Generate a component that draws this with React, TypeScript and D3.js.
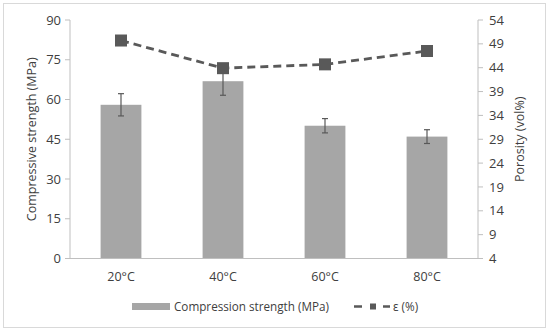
import React from 'react';
import * as d3 from 'd3';

const temps = ['20°C', '40°C', '60°C', '80°C'];
const strength = [58, 66.9, 50.1, 46];
const strengthErr = [4.2, 5.3, 2.7, 2.6];
const porosity = [49.7, 43.9, 44.7, 47.5];
const leftTicks = [0, 15, 30, 45, 60, 75, 90];
const rightTicks = [4, 9, 14, 19, 24, 29, 34, 39, 44, 49, 54];

const App = () => {
  const width = 550;
  const height = 332;
  const left = 70;
  const right = 478;
  const top = 20;
  const bottom = 258.5;
  const font = 'Open Sans, sans-serif';
  const axisColor = '#bfbfbf';
  const textColor = '#404040';
  const barColor = '#a6a6a6';
  const markColor = '#595959';

  const x = d3.scaleBand().domain(temps).range([left, right]).paddingInner(0.6).paddingOuter(0.3);
  const yL = d3.scaleLinear().domain([0, 90]).range([bottom, top]);
  const yR = d3.scaleLinear().domain([4, 54]).range([bottom, top]);

  const line = d3.line<number>()
    .x((d, i) => x(temps[i])! + x.bandwidth() / 2)
    .y(d => yR(d));

  return (
    <svg width={width} height={height} style={{ position: 'absolute', left: 0, top: 0 }}>
      <rect x={3.5} y={3.5} width={542} height={324} fill="#fff" stroke="#d9d9d9" />

      {/* bars */}
      {strength.map((v, i) => (
        <rect key={temps[i]} x={x(temps[i])} y={yL(v)} width={x.bandwidth()} height={bottom - yL(v)} fill={barColor} />
      ))}

      {/* error bars */}
      {strength.map((v, i) => {
        const cx = x(temps[i])! + x.bandwidth() / 2;
        const y1 = yL(v + strengthErr[i]);
        const y2 = yL(v - strengthErr[i]);
        return (
          <g key={'e' + i} stroke={markColor} strokeWidth={1.2}>
            <line x1={cx} x2={cx} y1={y1} y2={y2} />
            <line x1={cx - 3} x2={cx + 3} y1={y1} y2={y1} />
            <line x1={cx - 3} x2={cx + 3} y1={y2} y2={y2} />
          </g>
        );
      })}

      {/* axes */}
      <line x1={left} x2={right} y1={bottom} y2={bottom} stroke={axisColor} />
      <line x1={left} x2={left} y1={top} y2={bottom} stroke={axisColor} />
      <line x1={right} x2={right} y1={top} y2={bottom} stroke={axisColor} />
      {leftTicks.map(t => (
        <g key={'l' + t}>
          <line x1={left - 5} x2={left} y1={yL(t)} y2={yL(t)} stroke={axisColor} />
          <text x={left - 9} y={yL(t)} dy="0.35em" textAnchor="end" fontSize={13} fontFamily={font} fill={textColor}>{t}</text>
        </g>
      ))}
      {rightTicks.map(t => (
        <g key={'r' + t}>
          <line x1={right} x2={right + 5} y1={yR(t)} y2={yR(t)} stroke={axisColor} />
          <text x={right + 11} y={yR(t)} dy="0.35em" textAnchor="start" fontSize={13} fontFamily={font} fill={textColor}>{t}</text>
        </g>
      ))}
      {temps.map(t => (
        <text key={'x' + t} x={x(t)! + x.bandwidth() / 2} y={277} dy="0.35em" textAnchor="middle" fontSize={12.5} fontFamily={font} fill={textColor}>{t}</text>
      ))}

      <text transform={`translate(32,${(top + bottom) / 2}) rotate(-90)`} textAnchor="middle" dy="0.35em" fontSize={12.5} fontFamily={font} fill={textColor}>Compressive strength (MPa)</text>
      <text transform={`translate(520,${(top + bottom) / 2}) rotate(-90)`} textAnchor="middle" dy="0.35em" fontSize={12.5} fontFamily={font} fill={textColor}>Porosity (vol%)</text>

      {/* porosity line */}
      <path d={line(porosity) ?? ''} fill="none" stroke={markColor} strokeWidth={2.8} strokeDasharray="8,5" />
      {porosity.map((v, i) => (
        <rect key={'m' + i} x={x(temps[i])! + x.bandwidth() / 2 - 6} y={yR(v) - 6} width={12} height={12} fill={markColor} />
      ))}

      {/* legend */}
      <rect x={132} y={303} width={38} height={7} fill={barColor} />
      <text x={174} y={306.5} dy="0.35em" fontSize={11.7} fontFamily={font} fill={textColor}>Compression strength (MPa)</text>
      <line x1={354} x2={362} y1={306.5} y2={306.5} stroke={markColor} strokeWidth={2.5} />
      <rect x={370} y={303.5} width={6} height={6} fill={markColor} />
      <line x1={383} x2={390} y1={306.5} y2={306.5} stroke={markColor} strokeWidth={2.5} />
      <text x={393} y={306.5} dy="0.35em" fontSize={11.7} fontFamily={font} fill={textColor}>ε (%)</text>
    </svg>
  );
};

export default App;
